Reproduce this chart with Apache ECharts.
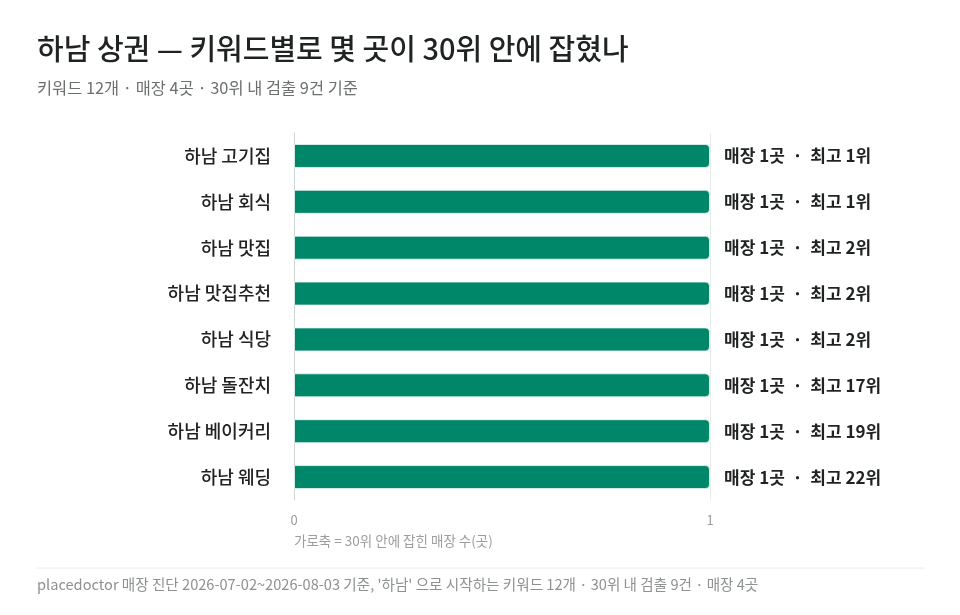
<!DOCTYPE html>
<html>
<head>
<meta charset="utf-8">
<script src="https://cdn.jsdelivr.net/npm/echarts@6/dist/echarts.min.js"></script>
<style>
  html, body { margin: 0; padding: 0; background: #fff; }
  #chart { width: 960px; height: 615px; }
</style>
</head>
<body>
<div id="chart"></div>
<script>
// 키워드별 데이터
const keywords = ['하남 고기집', '하남 회식', '하남 맛집', '하남 맛집추천', '하남 식당', '하남 돌잔치', '하남 베이커리', '하남 웨딩'];
const storeCounts = [1, 1, 1, 1, 1, 1, 1, 1];
const bestRanks = [1, 1, 2, 2, 2, 17, 19, 22];
const xTicks = [0, 1];

const FONT = '"Noto Sans CJK KR", "Noto Sans", sans-serif';

const chart = echarts.init(document.getElementById('chart'));

const option = {
  backgroundColor: '#ffffff',
  textStyle: { fontFamily: FONT },
  title: [
    {
      text: '하남 상권 — 키워드별로 몇 곳이 30위 안에 잡혔나',
      left: 32,
      top: 29,
      textStyle: { fontSize: 29, fontWeight: 500, color: '#1f2322', fontFamily: FONT }
    },
    {
      text: '키워드 12개 · 매장 4곳 · 30위 내 검출 9건 기준',
      left: 32,
      top: 75,
      textStyle: { fontSize: 16.4, fontWeight: 'normal', color: '#6b6f6e', fontFamily: FONT }
    }
  ],
  grid: {
    left: 294,
    right: 250,
    top: 133,
    bottom: 115,
    containLabel: false
  },
  xAxis: {
    type: 'value',
    min: xTicks[0],
    max: xTicks[xTicks.length - 1],
    interval: 1,
    axisLine: { show: false },
    axisTick: { show: false },
    axisLabel: { color: '#9a9e9d', fontSize: 13, margin: 14, fontFamily: FONT },
    splitLine: { show: true, lineStyle: { color: '#e6ecea', width: 1 } }
  },
  yAxis: {
    type: 'category',
    data: keywords,
    inverse: true,
    axisLine: { show: true, lineStyle: { color: '#cdd6d3', width: 1 } },
    axisTick: { show: false },
    axisLabel: { color: '#222', fontSize: 18, fontWeight: 500, margin: 23, fontFamily: FONT }
  },
  series: [
    {
      type: 'bar',
      data: storeCounts,
      barWidth: 24,
      itemStyle: {
        color: '#00876a',
        borderRadius: [0, 4, 4, 0],
        borderColor: 'rgba(255,255,255,0.7)',
        borderWidth: 1
      },
      label: {
        show: true,
        position: 'right',
        distance: 14,
        color: '#1f2322',
        fontSize: 17,
        fontWeight: 600,
        fontFamily: FONT,
        formatter: (p) => `매장 ${p.value}곳  ·  최고 ${bestRanks[p.dataIndex]}위`
      }
    }
  ],
  graphic: [
    {
      type: 'text',
      left: 294,
      top: 534,
      style: {
        text: '가로축 = 30위 안에 잡힌 매장 수(곳)',
        fill: '#9a9e9d',
        fontSize: 13.5,
        fontFamily: FONT
      }
    },
    {
      type: 'line',
      shape: { x1: 37, y1: 568, x2: 925, y2: 568 },
      style: { stroke: '#e6ecea', lineWidth: 1 }
    },
    {
      type: 'text',
      left: 37,
      top: 577,
      style: {
        text: "placedoctor 매장 진단 2026-07-02~2026-08-03 기준, '하남' 으로 시작하는 키워드 12개 · 30위 내 검출 9건 · 매장 4곳",
        fill: '#8d9190',
        fontSize: 14.6,
        fontFamily: FONT
      }
    }
  ]
};

chart.setOption(option);
</script>
</body>
</html>
